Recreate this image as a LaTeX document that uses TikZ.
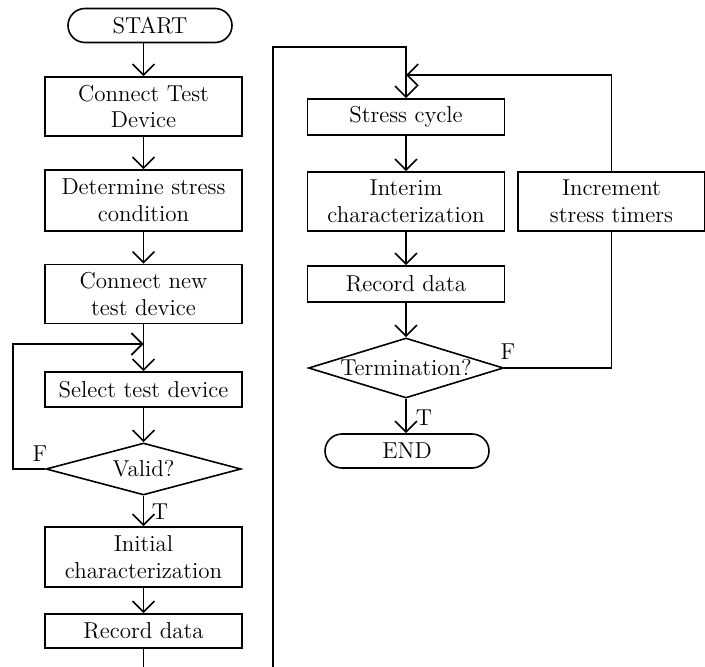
\documentclass[tikz,border=0pt]{standalone}
\usepackage{tikz}
\usetikzlibrary{arrows.meta,shapes.geometric,shapes.misc}
\definecolor{ink}{HTML}{000000}
\tikzset{
  every node/.style={font=\fontsize{11.5}{13.3}\selectfont, text=ink},
  blk/.style ={draw=ink, line width=0.8pt, inner sep=0pt, align=center},
  trm/.style ={blk, rounded rectangle, minimum width=82pt, minimum height=17pt},
  box/.style ={blk, minimum width=98.5pt},
  box1/.style={box, minimum height=17.5pt},
  box2/.style={box, minimum height=29.5pt},
  dec/.style ={blk, diamond, aspect=3.5, inner xsep=-10pt, minimum width=97.5pt},
  lbl/.style ={inner sep=0pt},
  ln/.style  ={line width=0.8pt, draw=ink},
  ar/.style  ={ln, -{Straight Barb[length=5.5pt, width=11pt]}},
}
\begin{document}
\begin{tikzpicture}[x=0.5pt, y=-0.5pt]
\useasboundingbox (0,0) rectangle (705,667);
\clip (0,0) rectangle (705,667);

% ============ left column: set-up ============================================
\node[trm] (start) at (150,25.5) {START};
\node[box2] (conn) at (143.5,106.5) {Connect Test\\Device};
\node[box2, minimum height=30.5pt] (cond) at (143.5,200.5) {Determine stress\\condition};
\node[box2] (cnew) at (143.5,294) {Connect new\\test device};
\coordinate (j1) at (143.5,344);
\node[box1] (sel) at (143.5,389.5) {Select test device};
\node[dec, minimum height=26pt] (valid) at (143.5,469) {Valid?};
\coordinate (lx) at (13,469);
\node[box2, minimum height=30pt] (init) at (143.5,557) {Initial\\characterization};
\node[box1, minimum height=17pt] (rec1) at (143.5,631) {Record data};
\node[lbl] (fv) at (40,454) {F};
\node[lbl] (tv) at (160,512) {T};

\draw[ar] (start.south -| conn.north) -- (conn.north);
\draw[ar] (conn) -- (cond);
\draw[ar] (cond) -- (cnew);
\draw[ln] (cnew.south) -- (j1);
\draw[ar] (j1) -- (sel.north);
\draw[ar] (sel) -- (valid.north);
\draw[ar] (valid.west) -- (lx) |- (j1);
\draw[ar] (valid.south) -- (init.north);
\draw[ar] (init) -- (rec1);

% ============ right column: stress loop ======================================
\coordinate (j2) at (406,75);
\node[box1, minimum height=18pt] (cyc) at (406,117) {Stress cycle};
\node[box2] (intr) at (406,201.5) {Interim\\characterization};
\node[box2, minimum width=93.5pt] (incr) at (611.5,201.5) {Increment\\stress timers};
\node[box1, minimum height=18pt] (rec2) at (406,284) {Record data};
\node[dec, minimum height=30pt] (term) at (406,368) {Termination?};
\node[trm] (end) at (407,451) {END};
\node[lbl] (ft) at (508,352) {F};
\node[lbl] (tt) at (424,418) {T};

\draw[ln] (rec1.south) -- ++(0,40) -| (273,47) -| (j2);
\draw[ar] (j2) -- (cyc.north);
\draw[ar] (cyc) -- (intr);
\draw[ar] (intr) -- (rec2);
\draw[ar] (rec2) -- (term.north);
\draw[ar] (term.south) -- (term.south |- end.north);
\draw[ln] (term.east) -| (incr.south);
\draw[ar] (incr.north) |- (j2);

\end{tikzpicture}
\end{document}
